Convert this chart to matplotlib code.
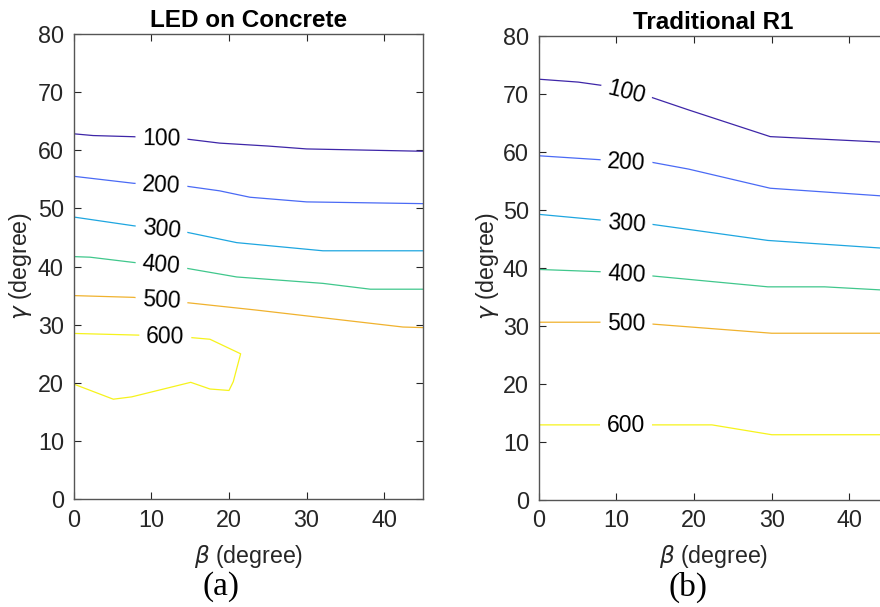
import matplotlib
matplotlib.use("Agg")
import matplotlib.pyplot as plt

plt.rcParams['font.family'] = ['Liberation Sans', 'DejaVu Sans']
plt.rcParams['mathtext.fontset'] = 'dejavusans'

levels = [100, 200, 300, 400, 500, 600]
level_colors = ['#3e26a8', '#4a6af5', '#1ea6e0', '#40c78c', '#f0b22e', '#f6f31c']

# Panel (a): LED on Concrete  -- contour polylines (beta, gamma)
a_x = {
    100: [0, 2.5, 7.7, 14.5, 18.8, 25, 30, 45],
    200: [0, 7.7, 14.5, 18.8, 22.7, 30, 45],
    300: [0, 7.7, 14.5, 21, 32.1, 45],
    400: [0, 2.1, 7.7, 14.5, 21, 32.1, 38.2, 45],
    500: [0, 7.7, 14.5, 23.6, 42.4, 45],
    600: [0, 8.6, 15.0, 17.55, 21.5, 20.55, 20.0, 17.55, 15.07, 7.47, 5.1, 0],
}
a_y = {
    100: [62.8, 62.5, 62.3, 61.9, 61.2, 60.7, 60.2, 59.8],
    200: [55.5, 54.3, 53.8, 53.0, 51.9, 51.1, 50.8],
    300: [48.5, 47.0, 45.9, 44.1, 42.7, 42.7],
    400: [41.7, 41.6, 40.7, 39.7, 38.2, 37.1, 36.1, 36.1],
    500: [35.0, 34.7, 33.8, 32.5, 29.6, 29.5],
    600: [28.5, 28.2, 27.8, 27.5, 25.0, 20.2, 18.7, 18.95, 20.1, 17.6, 17.2, 19.8],
}
a_lab_x = [11.3, 11.3, 11.3, 11.3, 11.3, 11.8]
a_lab_y = [61.9, 53.9, 46.3, 40.2, 34.1, 27.9]
a_lab_rot = [-1, -3, -6, -5, -3, -1]

# Panel (b): Traditional R1
b_x = {
    100: [0, 5.1, 8.3, 14.45, 19.3, 29.8, 45],
    200: [0, 8.1, 14.45, 19.3, 29.8, 45],
    300: [0, 8.1, 14.45, 29.5, 45],
    400: [0, 8.1, 14.45, 29.5, 36.8, 45],
    500: [0, 8.1, 14.45, 30.0, 45],
    600: [0, 8.1, 14.45, 22.3, 30.0, 45],
}
b_y = {
    100: [72.5, 72.0, 71.4, 69.4, 67.2, 62.6, 61.6],
    200: [59.3, 58.6, 58.2, 57.0, 53.7, 52.3],
    300: [49.2, 48.2, 47.5, 44.7, 43.3],
    400: [39.7, 39.3, 38.6, 36.7, 36.7, 36.1],
    500: [30.6, 30.6, 30.3, 28.7, 28.7],
    600: [12.9, 12.9, 12.9, 12.9, 11.2, 11.2],
}
b_lab_x = [11.3, 11.3, 11.3, 11.3, 11.3, 11.3]
b_lab_y = [70.3, 58.2, 47.6, 38.8, 30.4, 12.8]
b_lab_rot = [-14, -3, -4, -3, -1, 0]

titles = ['LED on Concrete', 'Traditional R1']
panel_tags = ['(a)', '(b)']
x_ticks = [0, 10, 20, 30, 40]
y_ticks = [0, 10, 20, 30, 40, 50, 60, 70, 80]

W, H = 880, 607
fig = plt.figure(figsize=(W / 100, H / 100), dpi=100)

def px_rect(l, r, t, b):
    return [l / W, 1 - b / H, (r - l) / W, (b - t) / H]

axes_rects = [px_rect(73.7, 423.1, 33.7, 499.3), px_rect(538.7, 888.3, 35.7, 499.7)]
panels = [(a_x, a_y, a_lab_x, a_lab_y, a_lab_rot), (b_x, b_y, b_lab_x, b_lab_y, b_lab_rot)]
ylab_x = [21, 487]
tag_x = [221, 688]

for i, (xs, ys, lx, ly, lr) in enumerate(panels):
    ax = fig.add_axes(axes_rects[i])
    for k, lev in enumerate(levels):
        ax.plot(xs[lev], ys[lev], color=level_colors[k], lw=0.9, zorder=2, clip_on=True)
        ax.text(lx[k], ly[k], str(lev), fontsize=16.5, ha='center', va='center',
                rotation=lr[k], rotation_mode='anchor', color='black', zorder=3,
                bbox=dict(boxstyle='square,pad=0.3', fc='white', ec='none'))
    ax.set_xlim(0, 45)
    ax.set_ylim(0, 80)
    ax.set_xticks(x_ticks)
    ax.set_yticks(y_ticks)
    ax.tick_params(direction='in', length=5, width=0.8, top=True, right=True,
                   labelsize=16.8, colors='#262626', pad=7)
    for s in ax.spines.values():
        s.set_color('#555555')
        s.set_linewidth(1.0)
    ax.set_title(titles[i], fontsize=17.5, fontweight='bold', pad=5)
    cx = (axes_rects[i][0] + axes_rects[i][2] / 2)
    fig.text(cx, 1 - 556 / H, r'$\beta$ (degree)', fontsize=16.7, ha='center', va='center', color='#262626')
    fig.text(ylab_x[i] / W, 1 - 266 / H, r'$\gamma$ (degree)', fontsize=16.7, ha='center', va='center',
             rotation=90, color='#262626')
    fig.text(tag_x[i] / W, 1 - 587 / H, panel_tags[i], fontsize=24, ha='center', va='center',
             family='Liberation Serif')

fig.savefig('out.png', dpi=100)
